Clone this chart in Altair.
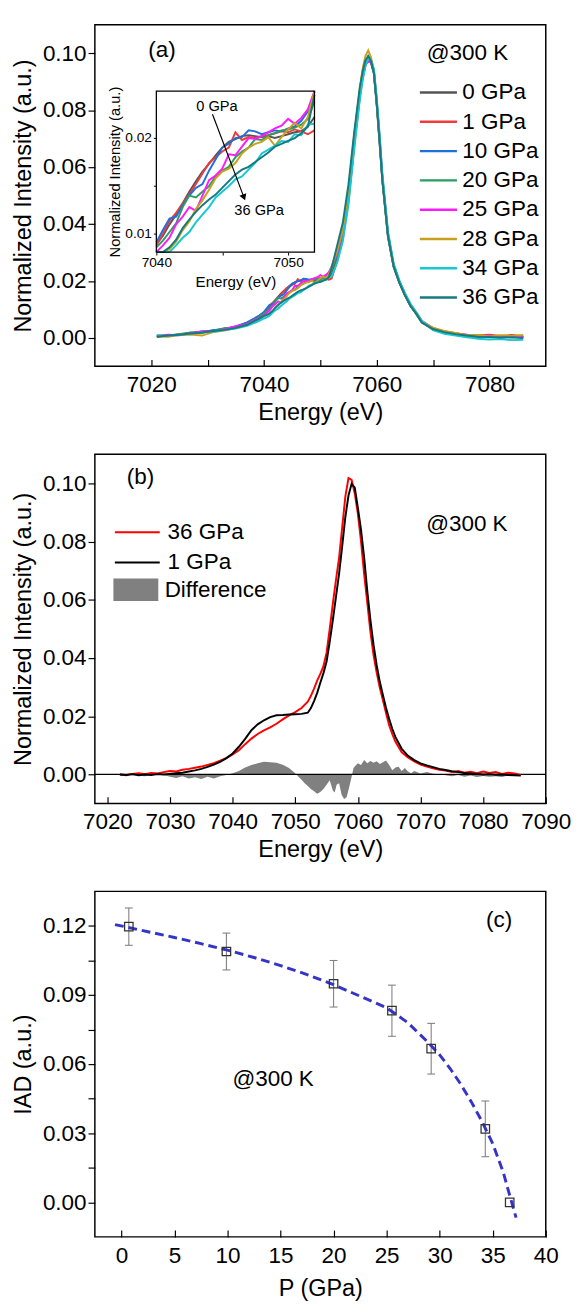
import altair as alt
import pandas as pd

FONT = "Liberation Sans"

E_A = [7021, 7023, 7025, 7027, 7029, 7031, 7033, 7035, 7037, 7039,
       7040, 7040.5, 7041, 7041.5, 7042, 7042.5, 7043, 7043.5, 7044, 7044.5,
       7045, 7045.5, 7046, 7046.5, 7047, 7047.5, 7048, 7048.5, 7049, 7049.5,
       7050, 7050.5, 7051, 7051.5, 7052,
       7053, 7054, 7055, 7056, 7057, 7057.5, 7058, 7058.5, 7059, 7059.5,
       7060, 7060.5, 7061, 7062, 7063, 7064, 7065, 7066, 7067, 7068,
       7070, 7072, 7074, 7076, 7078, 7080, 7082, 7084, 7086]

SERIES_A = ["0 GPa", "1 GPa", "10 GPa", "20 GPa", "25 GPa", "28 GPa", "34 GPa", "36 GPa"]
COLORS_A = ["#555555", "#ee3b3b", "#1f6fdc", "#2a9d62", "#ff1aff", "#c9a01e", "#16c8d0", "#147a80"]

GPA_0 = [0.0004, 0.0009, 0.0010, 0.0018, 0.0019, 0.0026, 0.0029, 0.0040, 0.0052, 0.0074,
         0.0089, 0.0098, 0.0110, 0.0120, 0.0132, 0.0144, 0.0155, 0.0165, 0.0173, 0.0182,
         0.0190, 0.0196, 0.0199, 0.0202, 0.0203, 0.0202, 0.0201, 0.0202, 0.0200, 0.0202,
         0.0204, 0.0206, 0.0207, 0.0212, 0.0222,
         0.0285, 0.0360, 0.0490, 0.0680, 0.0850, 0.0915, 0.0960, 0.0980, 0.0965, 0.0930,
         0.0820, 0.0690, 0.0555, 0.0355, 0.0250, 0.0195, 0.0150, 0.0112, 0.0085, 0.0055,
         0.0030, 0.0018, 0.0012, 0.0006, 0.0009, 0.0004, 0.0002, 0.0005, 0.0001]
GPA_1 = [0.0008, 0.0006, 0.0014, 0.0015, 0.0022, 0.0023, 0.0033, 0.0037, 0.0053, 0.0075,
         0.0088, 0.0100, 0.0114, 0.0122, 0.0132, 0.0141, 0.0152, 0.0163, 0.0174, 0.0180,
         0.0186, 0.0190, 0.0206, 0.0198, 0.0201, 0.0200, 0.0202, 0.0203, 0.0205, 0.0207,
         0.0206, 0.0209, 0.0207, 0.0204, 0.0208,
         0.0270, 0.0350, 0.0480, 0.0670, 0.0845, 0.0910, 0.0955, 0.0985, 0.0975, 0.0935,
         0.0830, 0.0705, 0.0565, 0.0365, 0.0258, 0.0200, 0.0156, 0.0118, 0.0090, 0.0060,
         0.0034, 0.0022, 0.0016, 0.0010, 0.0008, 0.0011, 0.0007, 0.0010, 0.0006]
GPA_10 = [0.0005, 0.0010, 0.0011, 0.0017, 0.0021, 0.0027, 0.0031, 0.0039, 0.0054, 0.0076,
          0.0091, 0.0104, 0.0116, 0.0118, 0.0130, 0.0140, 0.0148, 0.0152, 0.0166, 0.0178,
          0.0190, 0.0194, 0.0200, 0.0201, 0.0208, 0.0207, 0.0204, 0.0206, 0.0208, 0.0207,
          0.0210, 0.0212, 0.0218, 0.0228, 0.0248,
          0.0290, 0.0365, 0.0495, 0.0690, 0.0855, 0.0920, 0.0965, 0.0985, 0.0970, 0.0930,
          0.0825, 0.0695, 0.0560, 0.0360, 0.0255, 0.0198, 0.0152, 0.0115, 0.0087, 0.0058,
          0.0029, 0.0021, 0.0011, 0.0008, 0.0003, 0.0006, 0.0002, 0.0004, 0.0003]
GPA_20 = [0.0007, 0.0008, 0.0013, 0.0019, 0.0018, 0.0025, 0.0034, 0.0036, 0.0049, 0.0071,
          0.0086, 0.0093, 0.0102, 0.0111, 0.0128, 0.0140, 0.0138, 0.0144, 0.0150, 0.0160,
          0.0166, 0.0170, 0.0180, 0.0186, 0.0190, 0.0199, 0.0198, 0.0203, 0.0205, 0.0208,
          0.0209, 0.0211, 0.0214, 0.0220, 0.0238,
          0.0295, 0.0370, 0.0500, 0.0695, 0.0860, 0.0925, 0.0970, 0.0990, 0.0975, 0.0935,
          0.0830, 0.0700, 0.0562, 0.0362, 0.0252, 0.0196, 0.0150, 0.0113, 0.0086, 0.0056,
          0.0032, 0.0019, 0.0013, 0.0007, 0.0006, 0.0002, 0.0005, 0.0001, 0.0004]
GPA_25 = [0.0006, 0.0011, 0.0009, 0.0016, 0.0023, 0.0022, 0.0030, 0.0041, 0.0048, 0.0068,
          0.0079, 0.0088, 0.0096, 0.0110, 0.0118, 0.0128, 0.0124, 0.0140, 0.0156, 0.0161,
          0.0168, 0.0183, 0.0182, 0.0191, 0.0200, 0.0199, 0.0202, 0.0206, 0.0210, 0.0213,
          0.0220, 0.0215, 0.0221, 0.0230, 0.0249,
          0.0300, 0.0375, 0.0505, 0.0700, 0.0860, 0.0920, 0.0960, 0.0970, 0.0968, 0.0940,
          0.0840, 0.0710, 0.0570, 0.0368, 0.0256, 0.0199, 0.0153, 0.0114, 0.0088, 0.0057,
          0.0028, 0.0023, 0.0015, 0.0011, 0.0005, 0.0008, 0.0003, 0.0006, 0.0002]
GPA_28 = [0.0005, 0.0004, 0.0010, 0.0012, 0.0008, 0.0020, 0.0026, 0.0034, 0.0045, 0.0064,
          0.0075, 0.0080, 0.0084, 0.0092, 0.0104, 0.0113, 0.0126, 0.0135, 0.0146, 0.0158,
          0.0165, 0.0168, 0.0174, 0.0184, 0.0190, 0.0194, 0.0196, 0.0201, 0.0192, 0.0201,
          0.0209, 0.0216, 0.0210, 0.0222, 0.0250,
          0.0305, 0.0380, 0.0510, 0.0710, 0.0875, 0.0945, 0.0990, 0.1010, 0.0985, 0.0940,
          0.0830, 0.0700, 0.0560, 0.0360, 0.0252, 0.0197, 0.0151, 0.0113, 0.0086, 0.0055,
          0.0036, 0.0024, 0.0017, 0.0009, 0.0010, 0.0005, 0.0009, 0.0007, 0.0010]
GPA_34 = [0.0009, 0.0007, 0.0012, 0.0014, 0.0020, 0.0021, 0.0027, 0.0033, 0.0042, 0.0058,
          0.0068, 0.0072, 0.0078, 0.0088, 0.0096, 0.0102, 0.0112, 0.0120, 0.0128, 0.0138,
          0.0144, 0.0150, 0.0157, 0.0160, 0.0167, 0.0174, 0.0184, 0.0188, 0.0192, 0.0197,
          0.0196, 0.0204, 0.0203, 0.0214, 0.0215,
          0.0265, 0.0340, 0.0470, 0.0660, 0.0835, 0.0905, 0.0955, 0.0980, 0.0975, 0.0945,
          0.0845, 0.0720, 0.0580, 0.0375, 0.0262, 0.0203, 0.0158, 0.0120, 0.0091, 0.0060,
          0.0027, 0.0014, 0.0008, 0.0002, -0.0003, -0.0006, -0.0004, -0.0008, -0.0007]
GPA_36 = [0.0004, 0.0008, 0.0011, 0.0015, 0.0019, 0.0024, 0.0028, 0.0035, 0.0046, 0.0066,
          0.0077, 0.0081, 0.0086, 0.0094, 0.0106, 0.0115, 0.0123, 0.0130, 0.0136, 0.0141,
          0.0148, 0.0155, 0.0162, 0.0167, 0.0170, 0.0175, 0.0180, 0.0185, 0.0191, 0.0194,
          0.0197, 0.0200, 0.0205, 0.0212, 0.0245,
          0.0325, 0.0405, 0.0540, 0.0720, 0.0880, 0.0935, 0.0975, 0.0990, 0.0972, 0.0932,
          0.0825, 0.0695, 0.0555, 0.0358, 0.0251, 0.0195, 0.0150, 0.0112, 0.0085, 0.0054,
          0.0031, 0.0020, 0.0013, 0.0008, 0.0004, 0.0003, 0.0001, 0.0002, -0.0001]

INSET_E = [7040, 7052]
INSET_V = [0.0081, 0.0249]
ARROW_E = [7044.26, 7046.65]
ARROW_V = [0.02248, 0.01381]

E_B = [7022, 7023, 7024, 7025, 7026, 7027, 7028, 7029, 7030, 7031, 7032, 7033, 7034, 7035,
       7036, 7037, 7038, 7039, 7040, 7041, 7042, 7043, 7044, 7045, 7046, 7047, 7048, 7049,
       7050, 7051, 7052,
       7052.5, 7053, 7053.5, 7054, 7054.5, 7055, 7055.5, 7056, 7056.5, 7057, 7057.5, 7058,
       7058.5, 7059, 7059.5, 7060, 7060.5, 7061, 7061.5, 7062, 7062.5, 7063, 7063.5, 7064,
       7064.5, 7065, 7065.5, 7066,
       7067, 7068, 7069, 7070, 7071, 7072, 7073, 7074, 7075, 7076, 7077, 7078, 7079, 7080,
       7081, 7082, 7083, 7084, 7085, 7086]
B_1GPA = [0.0000, -0.0002, 0.0001, -0.0003, 0.0000, -0.0002, 0.0001, 0.0000, 0.0002, 0.0004,
          0.0006, 0.0010, 0.0014, 0.0019, 0.0026, 0.0034, 0.0043, 0.0056, 0.0072, 0.0095,
          0.0122, 0.0152, 0.0172, 0.0186, 0.0197, 0.0203, 0.0204, 0.0206, 0.0207, 0.0208,
          0.0212,
          0.0228, 0.0252, 0.0280, 0.0315, 0.0348, 0.0388, 0.0455, 0.0530, 0.0610, 0.0690,
          0.0785, 0.0885, 0.0958, 0.0998, 0.0985, 0.0915, 0.0840, 0.0745, 0.0630, 0.0530,
          0.0445, 0.0375, 0.0318, 0.0272, 0.0228, 0.0190, 0.0156, 0.0128,
          0.0088, 0.0064, 0.0049, 0.0038, 0.0031, 0.0025, 0.0019, 0.0015, 0.0011, 0.0008,
          0.0005, 0.0003, 0.0002, 0.0000, 0.0001, -0.0001, 0.0000, -0.0002, -0.0003, -0.0004]
B_36GPA = [0.0000, -0.0003, 0.0002, 0.0004, 0.0001, 0.0005, 0.0003, 0.0008, 0.0012, 0.0010,
           0.0016, 0.0019, 0.0023, 0.0027, 0.0033, 0.0039, 0.0047, 0.0056, 0.0069, 0.0083,
           0.0104, 0.0123, 0.0139, 0.0151, 0.0162, 0.0174, 0.0189, 0.0203, 0.0214, 0.0228,
           0.0250,
           0.0270, 0.0295, 0.0322, 0.0345, 0.0372, 0.0418, 0.0500, 0.0587, 0.0668, 0.0745,
           0.0850, 0.0955, 0.1018, 0.1012, 0.0965, 0.0895, 0.0800, 0.0688, 0.0590, 0.0490,
           0.0410, 0.0350, 0.0298, 0.0255, 0.0210, 0.0168, 0.0138, 0.0112,
           0.0076, 0.0058, 0.0045, 0.0034, 0.0027, 0.0021, 0.0016, 0.0013, 0.0008, 0.0012,
           0.0006, 0.0009, 0.0004, 0.0010, 0.0005, 0.0008, 0.0002, 0.0006, 0.0003, -0.0002]

E_D = [7022, 7024, 7026, 7028,
       7030, 7031, 7032, 7033, 7034, 7035, 7036, 7037, 7038, 7039, 7040, 7041, 7042, 7043,
       7044, 7045, 7046, 7047, 7048, 7049, 7050,
       7050.5, 7051, 7051.5, 7052, 7052.5, 7053, 7053.5, 7054, 7054.5, 7055, 7055.5, 7056,
       7056.3, 7056.6, 7057, 7057.4, 7057.8, 7058.2, 7058.6, 7059, 7059.3, 7059.6,
       7060, 7060.5, 7061, 7061.5, 7062, 7062.5, 7063, 7063.5, 7064, 7064.5, 7065, 7065.5,
       7066, 7066.5, 7067, 7067.5, 7068, 7068.5, 7069,
       7070, 7071, 7072, 7073, 7074, 7075, 7076, 7077, 7078, 7079, 7080, 7081, 7082, 7083,
       7084, 7085, 7086]
DIFF = [0.0, -0.0003, -0.0006, 0.0003,
        -0.0008, -0.0012, -0.0006, -0.0014, -0.0010, -0.0016, -0.0008, -0.0014, -0.0006,
        -0.0002, 0.0004, 0.0012, 0.0024, 0.0032, 0.0038, 0.0044, 0.0042, 0.0040, 0.0033,
        0.0022, 0.0004,
        -0.0008, -0.0018, -0.0030, -0.0040, -0.0050, -0.0058, -0.0066, -0.0060, -0.0050,
        -0.0035, -0.0020, -0.0055,
        -0.0062, -0.0035, -0.0030, -0.0070, -0.0084, -0.0078, -0.0045, -0.0008, 0.0022, 0.0030,
        0.0038, 0.0032, 0.0050, 0.0038, 0.0046, 0.0040, 0.0045, 0.0036, 0.0042, 0.0048,
        0.0032, 0.0014, 0.0024, 0.0026, 0.0012, 0.0022, 0.0010, 0.0004, 0.0012,
        0.0003, 0.0008, 0.0002, 0.0001, -0.0003, -0.0006, -0.0002, -0.0008, -0.0004, -0.0009,
        -0.0005, -0.0008, -0.0006, -0.0009, -0.0004, -0.0002, 0.0]

P_GPA = [0.7, 9.9, 20.0, 25.5, 29.2, 34.3, 36.6]
IAD = [0.1197, 0.1089, 0.0949, 0.0832, 0.0667, 0.0319, 0.0000]
IAD_ERR = [0.0081, 0.0080, 0.0101, 0.0111, 0.0110, 0.0121, 0.0]
FIT_P = [-0.6, 2.5, 5, 7.5, 10, 12.5, 15, 17.5, 20, 22.5, 25, 27, 29, 30, 31, 32, 33, 34,
         35, 36, 36.6, 37.2]
FIT_IAD = [0.1206, 0.1175, 0.1150, 0.1123, 0.1095, 0.1063, 0.1028, 0.0989, 0.0945, 0.0895,
           0.0845, 0.0780, 0.0690, 0.0640, 0.0580, 0.0512, 0.0435, 0.0350, 0.0255, 0.0130,
           0.0030, -0.0066]

rows = []
for name, vals in zip(SERIES_A, [GPA_0, GPA_1, GPA_10, GPA_20, GPA_25, GPA_28, GPA_34, GPA_36]):
    for e, v in zip(E_A, vals):
        rows.append({"E": e, "v": v, "series": name})
dfA = pd.DataFrame(rows)

rowsB = []
for name, vals in [("36 GPa", B_36GPA), ("1 GPa", B_1GPA)]:
    for e, v in zip(E_B, vals):
        rowsB.append({"E": e, "v": v, "series": name})
dfB = pd.DataFrame(rowsB)
dfD = pd.DataFrame({"E": E_D, "v": DIFF, "name": "Difference"})

dfC = pd.DataFrame({"P": P_GPA, "IAD": IAD, "err": IAD_ERR})
dfFit = pd.DataFrame({"P": FIT_P, "IAD": FIT_IAD})

W = 462
HA, HB, HC = 350, 358, 354
TICK = 7


def x_axis(values, label_test, title, title_pad, fmt, h):
    # inward ticks drawn as short grid dashes anchored at the bottom edge
    return alt.Axis(values=values, labelExpr=f"{label_test} ? datum.label : ''", format=fmt,
                    ticks=False, tickSize=0, grid=True, gridDash=[TICK, 2000],
                    gridDashOffset=2000 + 2 * TICK - h, gridColor="black",
                    gridWidth=1.2, gridOpacity=1, domain=False, labelFontSize=23,
                    labelPadding=8, labelFlush=False, labelOverlap=False, title=title,
                    titleFontSize=24, titlePadding=title_pad)


def y_axis(values, label_test, title, fmt):
    return alt.Axis(values=values, labelExpr=f"{label_test} ? datum.label : ''", format=fmt,
                    ticks=True, tickSize=7, tickWidth=1.2, tickColor="black", grid=False,
                    domain=False, labelFontSize=23, labelPadding=2, labelFlush=False,
                    labelOverlap=False, title=title, titleFontSize=24, titlePadding=7)


# ---------------- panel (a) ----------------
xA = alt.Scale(domain=[7010, 7090], nice=False, zero=False)
yA = alt.Scale(domain=[-0.01, 0.11], nice=False, zero=False)
colA = alt.Scale(domain=SERIES_A, range=COLORS_A)

legA = alt.Legend(title=None, orient="none", legendX=331, legendY=58, symbolType="M-2,0H2",
                  symbolSize=361, symbolStrokeWidth=2.5, symbolOffset=9.5, labelOffset=13,
                  labelFontSize=23, rowPadding=6, symbolOpacity=1, padding=0)

linesA = alt.Chart(dfA).mark_line(strokeWidth=2).encode(
    x=alt.X("E:Q", scale=xA,
            axis=x_axis([7020, 7030, 7040, 7050, 7060, 7070, 7080], "datum.value % 20 == 0",
                        "Energy (eV)", 5, "d", HA)),
    y=alt.Y("v:Q", scale=yA,
            axis=y_axis([0, 0.02, 0.04, 0.06, 0.08, 0.10], "true",
                        "Normalized Intensity (a.u.)", ".2f")),
    color=alt.Color("series:N", scale=colA, legend=legA),
)

labA = pd.DataFrame({"x": [7021.9, 7076.1], "y": [0.101, 0.100], "t": ["(a)", "@300 K"]})
textA = alt.Chart(labA).mark_text(fontSize=23, font=FONT, baseline="middle", align="center").encode(
    x=alt.X("x:Q", scale=xA), y=alt.Y("y:Q", scale=yA), text="t:N")

mainA = alt.layer(linesA, textA)

xI = alt.Scale(domain=INSET_E, range=[63, 225], nice=False, zero=False, clamp=True)
yI = alt.Scale(domain=INSET_V, range=[HA - 117, 68], nice=False, zero=False, clamp=True)

frameI = alt.Chart(pd.DataFrame({"x0": [INSET_E[0]], "x1": [INSET_E[1]],
                                  "y0": [INSET_V[0]], "y1": [INSET_V[1]]})).mark_rect(
    fill="white", fillOpacity=0, stroke="black", strokeWidth=1.3).encode(
    x=alt.X("x0:Q", scale=xI), x2="x1:Q",
    y=alt.Y("y0:Q", scale=yI), y2="y1:Q")

linesI = alt.Chart(dfA).transform_filter(
    (alt.datum.E >= INSET_E[0]) & (alt.datum.E <= INSET_E[1])
).mark_line(strokeWidth=2).encode(
    x=alt.X("E:Q", scale=xI,
            axis=alt.Axis(orient="bottom", offset=-117, values=[7040, 7045, 7050],
                          labelExpr="datum.value == 7045 ? '' : datum.label", format="d",
                          ticks=True, tickSize=3, tickColor="black", domain=False, grid=False,
                          labelFontSize=14, labelPadding=1, labelFlush=False,
                          labelOverlap=False, title="Energy (eV)", titleFontSize=15.5,
                          titlePadding=5)),
    y=alt.Y("v:Q", scale=yI,
            axis=alt.Axis(orient="left", offset=-63, values=[0.01, 0.015, 0.02],
                          labelExpr="datum.value == 0.015 ? '' : datum.label", format=".2f",
                          ticks=True, tickSize=3, tickColor="black", domain=False, grid=False,
                          labelFontSize=14, labelPadding=2, labelOverlap=False,
                          title="Normalized Intensity (a.u.)", titleFontSize=15,
                          titlePadding=3)),
    color=alt.Color("series:N", scale=colA, legend=None),
)

arrowDf = pd.DataFrame({"E": ARROW_E, "v": ARROW_V})
arrowLine = alt.Chart(arrowDf).mark_line(color="black", strokeWidth=1.2).encode(
    x=alt.X("E:Q", scale=xI), y=alt.Y("v:Q", scale=yI))
arrowHead = alt.Chart(arrowDf.iloc[[1]]).mark_point(
    shape="triangle-down", filled=True, color="black", size=55, angle=339, opacity=1).encode(
    x=alt.X("E:Q", scale=xI), y=alt.Y("v:Q", scale=yI))
labI = pd.DataFrame({"x": [7044.6, 7047.8], "y": [0.0233, 0.0125], "t": ["0 GPa", "36 GPa"]})
textI = alt.Chart(labI).mark_text(fontSize=15, font=FONT, baseline="middle", align="center").encode(
    x=alt.X("x:Q", scale=xI), y=alt.Y("y:Q", scale=yI), text="t:N")

insetA = alt.layer(linesI, frameI, arrowLine, arrowHead, textI)

panelA = alt.layer(mainA, insetA).resolve_scale(x="independent", y="independent").properties(
    width=W, height=HA)

# ---------------- panel (b) ----------------
xB = alt.Scale(domain=[7018, 7090], nice=False, zero=False)
yB = alt.Scale(domain=[-0.01, 0.11], nice=False, zero=False)

areaB = alt.Chart(dfD).mark_area(opacity=1, interpolate="linear").encode(
    x=alt.X("E:Q", scale=xB,
            axis=x_axis([7020, 7030, 7040, 7050, 7060, 7070, 7080, 7090], "true",
                        "Energy (eV)", 4, "d", HB)),
    y=alt.Y("v:Q", scale=yB, stack=None,
            axis=y_axis([0, 0.02, 0.04, 0.06, 0.08, 0.10], "true",
                        "Normalized Intensity (a.u.)", ".2f")),
    y2=alt.datum(0),
    fill=alt.Fill("name:N", scale=alt.Scale(domain=["Difference"], range=["#808080"]),
                  legend=alt.Legend(title=None, orient="none", legendX=19, legendY=127.5,
                                    symbolType="M-2,-1H2V1H-2Z", symbolSize=529,
                                    symbolStrokeWidth=0, symbolOffset=11.5, labelOffset=18,
                                    labelFontSize=23, symbolOpacity=1, padding=0)),
)
zeroB = alt.Chart(pd.DataFrame({"z": [0.0]})).mark_rule(color="black", strokeWidth=1.3).encode(
    y=alt.Y("z:Q", scale=yB))
linesB = alt.Chart(dfB).mark_line(strokeWidth=2).encode(
    x=alt.X("E:Q", scale=xB),
    y=alt.Y("v:Q", scale=yB),
    stroke=alt.Stroke("series:N", scale=alt.Scale(domain=["36 GPa", "1 GPa"],
                                                   range=["#ff0000", "#000000"]),
                      legend=alt.Legend(title=None, orient="none", legendX=19, legendY=67,
                                        symbolType="M-2,0H2", symbolSize=529,
                                        symbolStrokeWidth=2.2, symbolOffset=11.5,
                                        labelOffset=18, labelFontSize=23, rowPadding=6,
                                        symbolOpacity=1, padding=0)),
)
labB = pd.DataFrame({"x": [7025.3, 7077.4], "y": [0.102, 0.0861], "t": ["(b)", "@300 K"]})
textB = alt.Chart(labB).mark_text(fontSize=23, font=FONT, baseline="middle", align="center").encode(
    x=alt.X("x:Q", scale=xB), y=alt.Y("y:Q", scale=yB), text="t:N")

panelB = alt.layer(areaB, zeroB, linesB, textB).resolve_scale(fill="independent",
                                                               stroke="independent").properties(
    width=W, height=HB)

# ---------------- panel (c) ----------------
xC = alt.Scale(domain=[-2.5, 40], nice=False, zero=False)
yC = alt.Scale(domain=[-0.015, 0.135], nice=False, zero=False)

errC = alt.Chart(dfC).transform_filter(alt.datum.err > 0).transform_calculate(
    lo="datum.IAD - datum.err", hi="datum.IAD + datum.err"
).mark_rule(color="#808080", strokeWidth=1.1).encode(
    x=alt.X("P:Q", scale=xC,
            axis=x_axis([0, 2.5, 5, 7.5, 10, 12.5, 15, 17.5, 20, 22.5, 25, 27.5, 30, 32.5, 35,
                         37.5, 40], "datum.value % 5 == 0", "P (GPa)", 10, "~g", HC)),
    y=alt.Y("lo:Q", scale=yC,
            axis=y_axis([0, 0.015, 0.03, 0.045, 0.06, 0.075, 0.09, 0.105, 0.12],
                        "round(datum.value * 1000) % 30 == 0", "IAD (a.u.)", ".2f")),
    y2="hi:Q",
)
capsC = alt.Chart(dfC).transform_filter(alt.datum.err > 0).transform_calculate(
    lo="datum.IAD - datum.err", hi="datum.IAD + datum.err"
).transform_fold(["lo", "hi"], as_=["k", "cap"]).mark_tick(
    orient="horizontal", size=8, thickness=1.1, color="#808080", opacity=1).encode(
    x=alt.X("P:Q", scale=xC), y=alt.Y("cap:Q", scale=yC))
fitC = alt.Chart(dfFit).mark_line(color="#3434c8", strokeWidth=3, strokeDash=[9, 5]).encode(
    x=alt.X("P:Q", scale=xC), y=alt.Y("IAD:Q", scale=yC))
ptsC = alt.Chart(dfC).mark_point(shape="square", size=75, filled=False, color="#333333",
                                 strokeWidth=1.3, opacity=1).encode(
    x=alt.X("P:Q", scale=xC), y=alt.Y("IAD:Q", scale=yC))
labC = pd.DataFrame({"x": [35.6, 14.3], "y": [0.1223, 0.0535], "t": ["(c)", "@300 K"]})
textC = alt.Chart(labC).mark_text(fontSize=23, font=FONT, baseline="middle", align="center").encode(
    x=alt.X("x:Q", scale=xC), y=alt.Y("y:Q", scale=yC), text="t:N")

panelC = alt.layer(errC, capsC, fitC, ptsC, textC).properties(width=W, height=HC)

chart = alt.vconcat(panelA, panelB, panelC, spacing=90, bounds="flush").properties(
    padding={"left": 3, "top": 0, "right": 5, "bottom": 2}
).configure_axis(
    labelFont=FONT, titleFont=FONT, labelColor="black", titleColor="black",
    titleFontWeight="normal"
).configure_legend(
    labelFont=FONT, labelColor="black"
).configure_text(font=FONT).configure_view(stroke="black", strokeWidth=1.5)

chart.save("out.html", embed_options={"renderer": "svg", "actions": False})
